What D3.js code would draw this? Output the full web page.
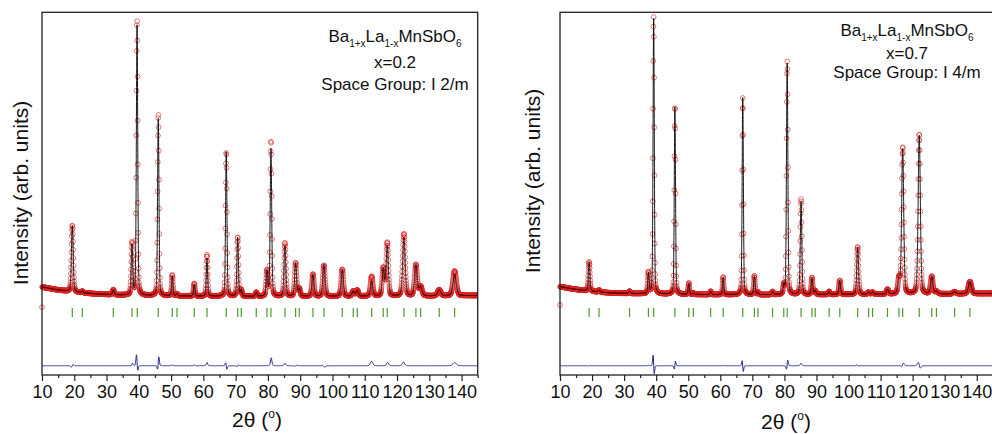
<!DOCTYPE html>
<html>
<head>
<meta charset="utf-8">
<script src="https://cdn.jsdelivr.net/npm/d3@7"></script>
<style>
  body { margin: 0; background: #fff; }
  svg { display: block; font-family: "Liberation Sans", Arial, sans-serif; }
</style>
</head>
<body>
<svg width="992" height="434"></svg>
<script>
// Background points (2theta, counts)
const bgAngles = [10, 14, 18, 22, 26, 32, 40, 52, 72, 100, 130, 145];
const bgA = [1020, 920, 848, 788, 748, 708, 680, 660, 640, 648, 660, 680];
const bgB = [1032, 940, 872, 820, 780, 760, 740, 720, 708, 720, 740, 760];

// Reflections: [2theta, calc height, obs height, fwhm, obs shift]
const peaksA = [
  [19.39, 2650, 2650, 0.65, 0.010], [22.48, 60, 60, 0.6, 0], [32.09, 200, 200, 0.6, 0],
  [37.88, 2000, 2080, 0.55, 0.008], [39.45, 10800, 11000, 0.5, -0.010], [46.03, 7080, 7250, 0.5, 0.012],
  [50.37, 800, 830, 0.5, 0], [51.82, 80, 80, 0.5, 0], [57.18, 470, 500, 0.5, 0],
  [61.12, 1520, 1650, 0.5, 0], [67.09, 5780, 5760, 0.5, -0.008], [70.63, 2360, 2360, 0.55, 0.006],
  [71.74, 250, 250, 0.55, 0], [76.39, 160, 160, 0.6, 0], [79.70, 1000, 1000, 0.6, 0],
  [80.94, 5900, 6200, 0.55, 0.004], [85.28, 2040, 2130, 0.65, 0], [88.59, 1330, 1330, 0.7, 0.008],
  [89.71, 300, 300, 0.7, 0], [93.95, 880, 880, 0.75, 0], [97.36, 1270, 1230, 0.8, -0.012],
  [103.03, 1070, 1070, 0.8, 0], [106.44, 200, 200, 0.8, 0], [107.68, 240, 240, 0.8, 0],
  [112.14, 600, 780, 0.85, 0], [115.73, 1100, 1100, 0.8, 0], [116.97, 2000, 2120, 0.8, 0.008],
  [122.14, 2340, 2480, 0.9, -0.008], [125.86, 1240, 1240, 0.95, 0], [127.32, 370, 370, 1.0, 0],
  [133.08, 240, 240, 1.1, 0], [137.85, 850, 980, 1.2, 0]
];
const peaksB = [
  [19.08, 1160, 1160, 0.55, 0.006], [22.18, 80, 80, 0.55, 0], [31.69, 90, 90, 0.5, 0],
  [37.58, 820, 840, 0.5, 0], [39.22, 11000, 11080, 0.45, -0.011], [45.84, 7480, 7520, 0.45, 0.007],
  [50.18, 450, 450, 0.45, 0], [51.60, 60, 60, 0.45, 0], [56.99, 130, 130, 0.45, 0],
  [60.89, 690, 700, 0.45, 0], [67.01, 7880, 7860, 0.45, -0.009], [70.63, 750, 750, 0.5, 0],
  [71.74, 100, 100, 0.5, 0], [76.30, 120, 120, 0.5, 0], [79.80, 350, 350, 0.5, 0],
  [80.86, 9250, 9320, 0.5, 0.007], [85.19, 3710, 3810, 0.55, 0], [88.60, 670, 670, 0.55, 0],
  [89.62, 150, 150, 0.55, 0], [93.96, 120, 120, 0.6, 0], [97.27, 560, 560, 0.6, 0],
  [102.85, 1880, 1900, 0.65, -0.006], [106.26, 80, 80, 0.7, 0], [107.50, 80, 80, 0.7, 0],
  [112.15, 190, 190, 0.75, 0], [115.74, 590, 590, 0.75, 0], [116.89, 5800, 5860, 0.75, 0.006],
  [122.06, 6350, 6380, 0.8, -0.01], [125.96, 690, 690, 0.85, 0], [127.42, 100, 100, 0.9, 0],
  [133.09, 80, 80, 1.0, 0], [137.86, 480, 480, 1.1, 0]
];

// Bragg reflection markers
const braggA = [19.39, 22.48, 32.09, 37.88, 39.52, 46.03, 50.37, 51.82, 57.18, 61.12, 67.09, 70.63,
  71.74, 76.39, 79.70, 80.94, 85.28, 88.59, 89.71, 93.95, 97.36, 103.03, 106.44, 107.68, 112.14,
  115.73, 116.97, 122.14, 125.86, 127.32, 133.08, 137.85];
const braggB = [19.08, 22.18, 31.69, 37.58, 39.22, 45.84, 50.18, 51.60, 56.99, 60.89, 67.01, 70.63,
  71.74, 76.30, 79.80, 80.86, 85.19, 88.60, 89.62, 93.96, 97.27, 102.85, 106.26, 107.50, 112.15,
  115.74, 116.89, 122.06, 125.96, 127.42, 133.09, 137.86];

// first observed point sits low in both scans
const firstObsA = 210;
const firstObsB = 300;

const majorTicks = [10, 20, 30, 40, 50, 60, 70, 80, 90, 100, 110, 120, 130, 140];
const minorTicks = [15, 25, 35, 45, 55, 65, 75, 85, 95, 105, 115, 125, 135, 145];

const braggLevel = 0;       // counts where the green markers sit
const diffOffset = -2130;   // offset of the difference curve

const svg = d3.select("svg");
const plotTop = 12.3, plotBottom = 375;

const y = d3.scaleLinear().domain([-2500, 12000]).range([plotBottom, plotTop]);

const panels = [
  { left: 42, width: 435.7, bg: bgA, peaks: peaksA, bragg: braggA, first: firstObsA,
    comp: "0.2", sg: "I 2/m", tx: 395, ty: [41.7, 68.3, 89.5],
    ylx: 28, yly: 193, xlx: 257, xly: 427 },
  { left: 560, width: 432.8, bg: bgB, peaks: peaksB, bragg: braggB, first: firstObsB,
    comp: "0.7", sg: "I 4/m", tx: 907, ty: [36, 58.5, 78],
    ylx: 540, yly: 181, xlx: 786, xly: 429 }
];

const LN2 = Math.log(2);
function pv(dx, w) {
  const t = (dx / w) * (dx / w) * 4;
  return 0.25 / (1 + t) + 0.75 * Math.exp(-LN2 * t);
}

panels.forEach((p, i) => {
  const x = d3.scaleLinear().domain([10, 145]).range([p.left, p.left + p.width]);
  const bgAt = d3.scaleLinear().domain(bgAngles).range(p.bg);

  const calcAt = t => bgAt(t) + d3.sum(p.peaks, d => d[1] * pv(t - d[0], d[3]));
  const obsAt = t => bgAt(t) + d3.sum(p.peaks, d => d[2] * pv(t - d[0] - d[4], d[3]));

  const fine = d3.range(10, 145.0001, 0.01).map(t => [t, calcAt(t)]);
  const obs = d3.range(10, 145.0001, 0.06).map(t => [t, obsAt(t)]);
  const diff = obs.slice(1).map(d => [d[0], d[1] - calcAt(d[0]) + diffOffset]);
  obs[0][1] = p.first;

  const clipId = "clip" + i;
  svg.append("clipPath").attr("id", clipId)
    .append("rect").attr("x", p.left - 3).attr("y", plotTop).attr("width", p.width + 3).attr("height", plotBottom - plotTop);

  const g = svg.append("g").attr("clip-path", `url(#${clipId})`);

  // observed points
  g.append("g")
    .selectAll("circle")
    .data(obs)
    .join("circle")
      .attr("cx", d => x(d[0]))
      .attr("cy", d => y(d[1]))
      .attr("r", 2.4)
      .attr("fill", "none")
      .attr("stroke", "#d82424")
      .attr("stroke-opacity", 0.75)
      .attr("stroke-width", 0.8);

  // calculated profile
  g.append("path")
    .datum(fine)
    .attr("fill", "none")
    .attr("stroke", "#000")
    .attr("stroke-width", 0.9)
    .attr("d", d3.line().x(d => x(d[0])).y(d => y(d[1])));

  // Bragg positions
  g.append("g")
    .selectAll("line")
    .data(p.bragg)
    .join("line")
      .attr("x1", d => x(d)).attr("x2", d => x(d))
      .attr("y1", y(braggLevel) - 4.5).attr("y2", y(braggLevel) + 4.5)
      .attr("stroke", "#4e9a2e")
      .attr("stroke-width", 1.2);

  // difference curve
  g.append("path")
    .datum(diff)
    .attr("fill", "none")
    .attr("stroke", "#24248c")
    .attr("stroke-width", 1)
    .attr("d", d3.line().x(d => x(d[0])).y(d => y(d[1])));

  // frame
  svg.append("rect")
    .attr("x", p.left).attr("y", plotTop)
    .attr("width", p.width).attr("height", plotBottom - plotTop)
    .attr("fill", "none").attr("stroke", "#222").attr("stroke-width", 1.3);

  const axMajor = svg.append("g")
    .attr("transform", `translate(0,${plotBottom})`)
    .call(d3.axisBottom(x).tickValues(majorTicks).tickSize(6).tickPadding(4).tickFormat(d3.format("d")));
  axMajor.select(".domain").remove();
  axMajor.selectAll("line").attr("stroke", "#222").attr("stroke-width", 1.2);
  axMajor.selectAll("text")
    .attr("font-size", 18)
    .attr("font-family", "Liberation Sans, Arial, sans-serif")
    .attr("fill", "#111");

  const axMinor = svg.append("g")
    .attr("transform", `translate(0,${plotBottom})`)
    .call(d3.axisBottom(x).tickValues(minorTicks).tickSize(3).tickFormat(""));
  axMinor.select(".domain").remove();
  axMinor.selectAll("line").attr("stroke", "#222").attr("stroke-width", 1.2);

  // y label
  svg.append("text")
    .attr("transform", `translate(${p.ylx},${p.yly}) rotate(-90)`)
    .attr("text-anchor", "middle")
    .attr("font-size", 21)
    .attr("fill", "#111")
    .text("Intensity (arb. units)");

  // x label
  const xl = svg.append("text")
    .attr("x", p.xlx).attr("y", p.xly)
    .attr("text-anchor", "middle")
    .attr("font-size", 21)
    .attr("fill", "#111");
  xl.append("tspan").text("2θ (");
  xl.append("tspan").attr("dy", -9).attr("font-size", 12).text("o");
  xl.append("tspan").attr("dy", 9).text(")");

  // composition label
  const t1 = svg.append("text")
    .attr("x", p.tx).attr("y", p.ty[0])
    .attr("text-anchor", "middle")
    .attr("font-size", 17)
    .attr("fill", "#111");
  t1.append("tspan").text("Ba");
  t1.append("tspan").attr("dy", 5).attr("font-size", 10).text("1+x");
  t1.append("tspan").attr("dy", -5).text("La");
  t1.append("tspan").attr("dy", 5).attr("font-size", 10).text("1-x");
  t1.append("tspan").attr("dy", -5).text("MnSbO");
  t1.append("tspan").attr("dy", 5).attr("font-size", 10).text("6");

  svg.append("text")
    .attr("x", p.tx).attr("y", p.ty[1])
    .attr("text-anchor", "middle")
    .attr("font-size", 17)
    .attr("fill", "#111")
    .text("x=" + p.comp);

  svg.append("text")
    .attr("x", p.tx).attr("y", p.ty[2])
    .attr("text-anchor", "middle")
    .attr("font-size", 17)
    .attr("fill", "#111")
    .text("Space Group: " + p.sg);
});
</script>
</body>
</html>
